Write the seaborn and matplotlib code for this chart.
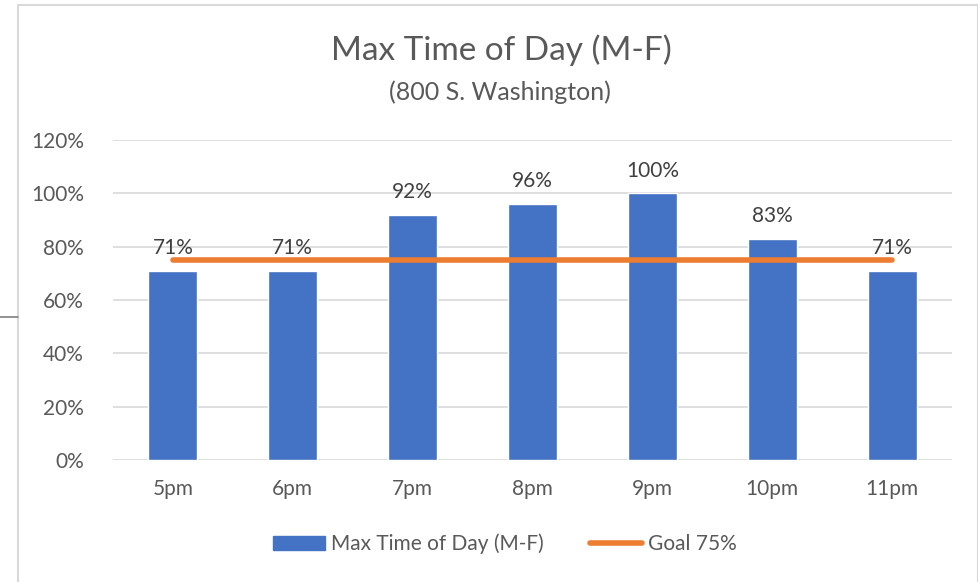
import matplotlib
matplotlib.use("Agg")
import matplotlib.pyplot as plt
import seaborn as sns
import pandas as pd
from matplotlib.patches import Rectangle
from matplotlib.lines import Line2D
from matplotlib.ticker import FuncFormatter

categories = ["5pm", "6pm", "7pm", "8pm", "9pm", "10pm", "11pm"]
values = [0.71, 0.71, 0.92, 0.96, 1.00, 0.83, 0.71]
goal = [0.75, 0.75, 0.75, 0.75, 0.75, 0.75, 0.75]
yticks = [0, 0.2, 0.4, 0.6, 0.8, 1.0, 1.2]
series_name = "Max Time of Day (M-F)"
goal_name = "Goal 75%"
title = "Max Time of Day (M-F)"
subtitle = "(800 S. Washington)"

sns.set_theme(style="white")
plt.rcParams['font.family'] = ['Lato', 'DejaVu Sans']

BLUE = "#4472C4"
ORANGE = "#ED7D31"
GRAY = "#595959"

W, H = 979, 582
fig = plt.figure(figsize=(W / 100, H / 100), dpi=100)
ax = fig.add_axes([113 / W, 1 - 460 / H, (952 - 113) / W, (460 - 140) / H])

df = pd.DataFrame({"cat": categories, "val": values})
sns.barplot(data=df, x="cat", y="val", color=BLUE, width=0.41, saturation=1,
            ax=ax, zorder=2)
ax.plot(range(len(categories)), goal, color=ORANGE, lw=4, solid_capstyle="round", zorder=3)

for i, v in enumerate(values):
    ax.text(i, v + 0.085, f"{round(v * 100):.0f}%", ha="center", va="center",
            fontsize=15, color="#404040", zorder=4)

ax.set_ylim(0, 1.2)
ax.set_xlim(-0.5, len(categories) - 0.5)
ax.set_yticks(yticks)
ax.yaxis.set_major_formatter(FuncFormatter(lambda y, _: f"{y * 100:.0f}%"))
ax.grid(axis="y", color="#d9d9d9", lw=1.2, zorder=0)
ax.set_axisbelow(True)
for s in ax.spines.values():
    s.set_visible(False)
ax.tick_params(axis="both", length=0, labelsize=15, labelcolor=GRAY)
ax.tick_params(axis="y", pad=21)
ax.tick_params(axis="x", pad=14)
ax.set_xlabel("")
ax.set_ylabel("")

fig.text(501 / W, 1 - 50 / H, title, ha="center", va="center", fontsize=24, color=GRAY)
fig.text(500 / W, 1 - 92 / H, subtitle, ha="center", va="center", fontsize=18, color=GRAY)

handles = [Rectangle((0, 0), 1, 1, color=BLUE),
           Line2D([0], [0], color=ORANGE, lw=4, solid_capstyle="round")]
fig.legend(handles, [series_name, goal_name], loc="center", bbox_to_anchor=(505 / W, 1 - 544 / H),
           ncol=2, frameon=False, fontsize=15, labelcolor=GRAY, handlelength=2.5,
           handleheight=0.6, handletextpad=0.3, columnspacing=2.2)

fig.patches.append(Rectangle((18 / W, -0.01), (W - 1 - 18) / W, 1 - 5 / H + 0.01,
                             transform=fig.transFigure, fill=False, edgecolor="#d9d9d9", lw=1.5))
fig.lines.append(Line2D([0, 18 / W], [1 - 317 / H, 1 - 317 / H], transform=fig.transFigure,
                        color="#7f7f7f", lw=1.2))

fig.savefig("out.png", dpi=100)
